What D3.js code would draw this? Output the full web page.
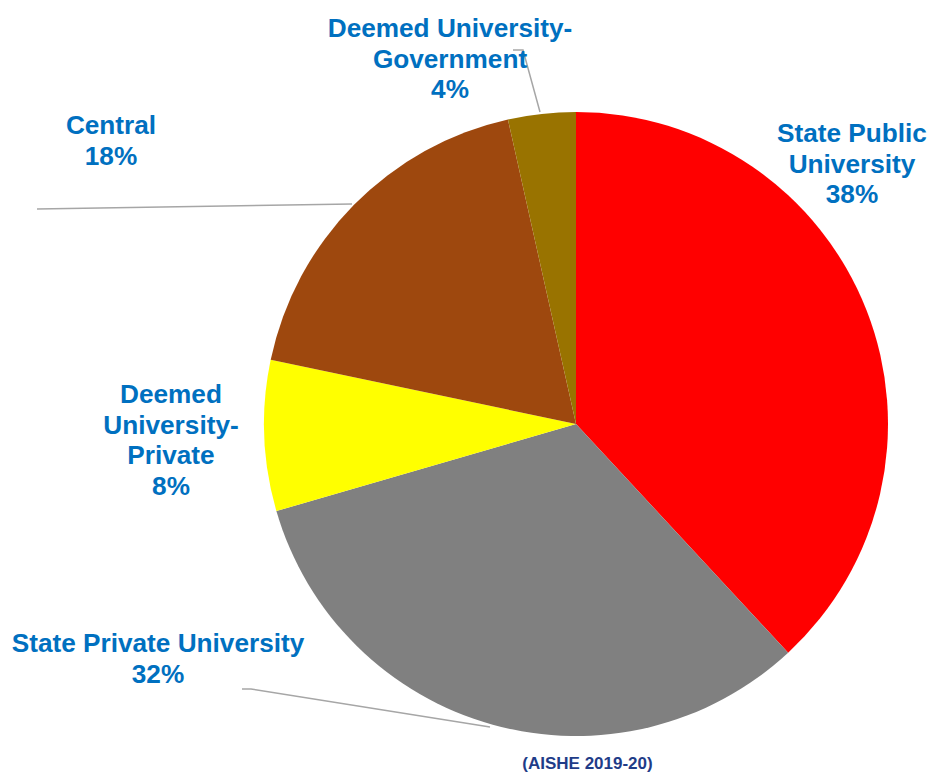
<!DOCTYPE html>
<html><head><meta charset="utf-8">
<script src="https://cdn.jsdelivr.net/npm/d3@7"></script>
<style>body{margin:0;background:#fff}svg{display:block}</style>
</head><body>
<svg id="c" width="930" height="774"></svg>
<script>
const categories = ["State Public University","State Private University","Deemed University-Private","Central","Deemed University-Government"];
const values = [38.1, 32.4, 7.8, 18.2, 3.5];
const colors = ["#FF0000","#808080","#FFFF00","#9E480E","#997300"];
const labelLines = [["State Public","University"],["State Private University"],["Deemed","University-","Private"],["Central"],["Deemed University-","Government"]];
const labelPos = [[852,142],[158,652],[171,403],[111,134],[450,37]];
const source = "(AISHE 2019-20)";

const svg = d3.select("#c");
const cx = 576, cy = 424, R = 312;
const pie = d3.pie().sort(null).value(d=>d)(values);
const arc = d3.arc().innerRadius(0).outerRadius(R);
const g = svg.append("g").attr("transform",`translate(${cx},${cy})`);
g.selectAll("path").data(pie).join("path").attr("d",arc).attr("fill",(d,i)=>colors[i]);

// leader lines
const leaders = [
  null,
  [[242,689],[251,689],[490,727]],
  null,
  [[37,209],[352,204]],
  [[513,50],[523,50],[540,112]]
];
leaders.forEach(l=>{ if(!l) return;
  svg.append("path").attr("d",d3.line()(l)).attr("fill","none").attr("stroke","#A6A6A6").attr("stroke-width",1.5);
});

const fmt = v => Math.round(v) + "%";
categories.forEach((c,i)=>{
  const [x,y] = labelPos[i];
  const lines = labelLines[i].concat([fmt(values[i])]);
  const t = svg.append("text").attr("x",x).attr("y",y).attr("text-anchor","middle")
    .attr("font-family","Liberation Sans, Arial, sans-serif").attr("font-weight","bold")
    .attr("font-size",26.2).attr("fill","#0070C0");
  lines.forEach((ln,j)=>t.append("tspan").attr("x",x).attr("y",y+j*30.5).text(ln));
});

svg.append("text").attr("x",587.5).attr("y",769).attr("text-anchor","middle")
  .attr("font-family","Liberation Sans, Arial, sans-serif").attr("font-weight","bold")
  .attr("font-size",17).attr("fill","#1F3C88").text(source);
</script>
</body></html>
